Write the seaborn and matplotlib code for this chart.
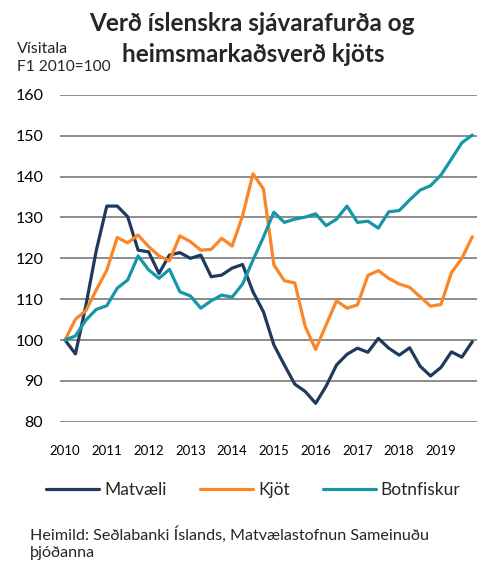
import numpy as np
import pandas as pd
import seaborn as sns
import matplotlib.pyplot as plt
from matplotlib.lines import Line2D

sns.set_style('white')
plt.rcParams['font.family'] = ['Lato', 'DejaVu Sans']

# quarterly index, F1 2010 = 100
quarters = 2010 + np.arange(40) / 4
years = list(range(2010, 2020))

matvaeli = [100, 96.6, 108.5, 122, 132.8, 132.8, 130.2, 122, 121.6, 116.3,
            120.8, 121.4, 120, 120.8, 115.5, 115.9, 117.6, 118.5, 111.8, 106.9,
            98.8, 93.9, 89.2, 87.4, 84.5, 88.7, 93.9, 96.5, 98, 97,
            100.4, 98, 96.3, 98.1, 93.6, 91.2, 93.3, 97.1, 95.8, 99.6]
kjot = [100, 105.1, 107.2, 112.3, 117.1, 125.1, 123.8, 125.7, 122.9, 120.6,
        119.4, 125.5, 124.1, 122, 122.2, 124.9, 123, 130.4, 140.7, 137,
        118.4, 114.5, 114, 103.3, 97.7, 103.7, 109.6, 107.8, 108.6, 115.8,
        117, 115.1, 113.7, 112.9, 110.6, 108.3, 108.7, 116.5, 120, 125.3]
botnfiskur = [100, 101, 104.9, 107.5, 108.4, 112.7, 114.7, 120.6, 117.2, 115.1,
              117.3, 111.8, 110.8, 107.8, 109.6, 111, 110.5, 113.7, 119.6, 125.2,
              131.3, 128.8, 129.6, 130.1, 130.9, 128, 129.6, 132.8, 128.8, 129.1,
              127.4, 131.4, 131.7, 134.3, 136.7, 137.8, 140.4, 144.3, 148.3, 150.2]

names = ['Matvæli', 'Kjöt', 'Botnfiskur']
colors = {'Matvæli': '#1f3a5c', 'Kjöt': '#fa8628', 'Botnfiskur': '#1597a7'}

df = pd.DataFrame({'Ár': quarters, 'Matvæli': matvaeli, 'Kjöt': kjot, 'Botnfiskur': botnfiskur})
df = df.melt(id_vars='Ár', var_name='Röð', value_name='Vísitala')

fig = plt.figure(figsize=(4.8, 5.64), dpi=100)
ax = fig.add_axes([0.125, 0.2523, 0.869, 0.5793])

ax.yaxis.grid(True, color='#8c8c8c', linewidth=1.4)
ax.set_axisbelow(True)
sns.lineplot(data=df, x='Ár', y='Vísitala', hue='Röð', hue_order=names,
             palette=colors, linewidth=2.3, ax=ax, legend=False)

ax.set_ylim(80, 160)
ax.set_yticks(range(80, 161, 10))
ax.set_xlim(2010 - 0.12, 2010 + 39.46 / 4)
ax.set_xticks(years)
ax.set_xticklabels([str(y) for y in years])
ax.tick_params(axis='y', labelsize=11.5, length=0, pad=12, colors='black')
ax.tick_params(axis='x', labelsize=9.5, length=0, pad=17, colors='black')
ax.set_xlabel('')
ax.set_ylabel('')
sns.despine(ax=ax, left=True, bottom=True)

# title as two lines so the small axis note can sit beside line two
fig.text(0.524, 0.958, 'Verð íslenskra sjávarafurða og',
         ha='center', va='center', fontsize=17.5, fontweight='bold')
fig.text(0.527, 0.904, 'heimsmarkaðsverð kjöts',
         ha='center', va='center', fontsize=17.5, fontweight='bold')
fig.text(0.035, 0.913, 'Vísitala', ha='left', va='center', fontsize=11.5)
fig.text(0.035, 0.882, 'F1 2010=100', ha='left', va='center', fontsize=11.2)

handles = [Line2D([0], [0], color=colors[n], linewidth=2.3) for n in names]
fig.legend(handles, names, loc='center', bbox_to_anchor=(0.528, 0.131), ncol=3,
           frameon=False, fontsize=12.5, handlelength=3.05, handletextpad=0.3,
           columnspacing=1.9)

fig.text(0.062, 0.037, 'Heimild: Seðlabanki Íslands, Matvælastofnun Sameinuðu\nþjóðanna',
         ha='left', va='center', fontsize=11.6, linespacing=1.25)

fig.savefig('out.png', dpi=100)
